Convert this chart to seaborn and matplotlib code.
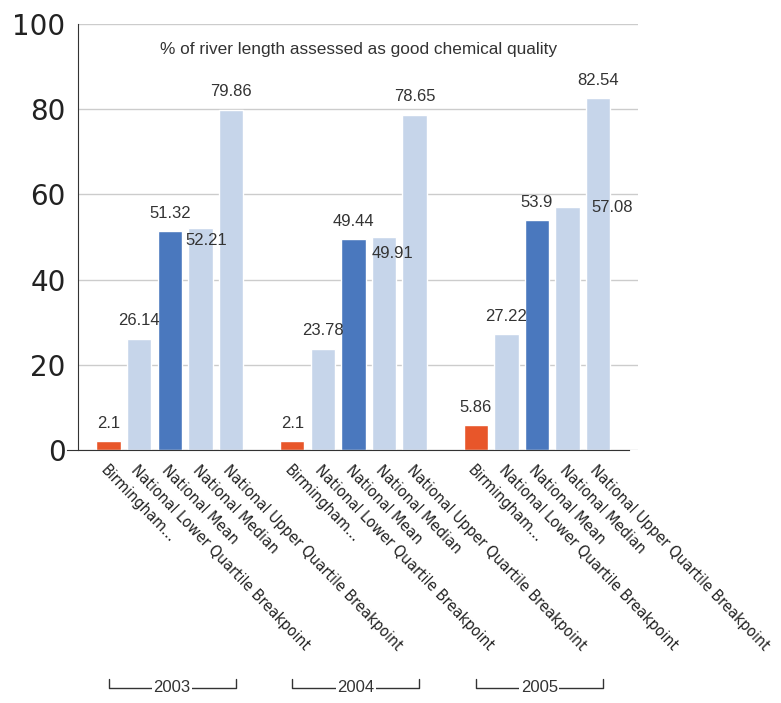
import numpy as np
import pandas as pd
import matplotlib
matplotlib.use("Agg")
import matplotlib.pyplot as plt
import matplotlib.transforms as mtransforms
import seaborn as sns

# -------------------- Data --------------------

years = ["2003", "2004", "2005"]
series = ["Birmingham...",
          "National Lower Quartile Breakpoint",
          "National Mean",
          "National Median",
          "National Upper Quartile Breakpoint"]

birmingham = [2.1, 2.1, 5.86]
lower_quartile = [26.14, 23.78, 27.22]
national_mean = [51.32, 49.44, 53.9]
national_median = [52.21, 49.91, 57.08]
upper_quartile = [79.86, 78.65, 82.54]

title = "% of river length assessed as good chemical quality"

colors = {"Birmingham...": "#E8562A",
          "National Lower Quartile Breakpoint": "#C6D5EA",
          "National Mean": "#4A78BE",
          "National Median": "#C6D5EA",
          "National Upper Quartile Breakpoint": "#C6D5EA"}

# -------------------- Build table --------------------

# one empty slot after each year group
slot = len(series) + 1
values = [birmingham, lower_quartile, national_mean, national_median, upper_quartile]
rows = []
for yi, year in enumerate(years):
    for si, name in enumerate(series):
        rows.append({"pos": yi * slot + si, "year": year, "series": name,
                     "value": values[si][yi]})
df = pd.DataFrame(rows)
n_slots = len(years) * slot

# -------------------- Plot --------------------

sns.set_style("white")
plt.rcParams["font.family"] = ["Liberation Sans", "DejaVu Sans"]

fig = plt.figure(figsize=(7.81, 7.03), dpi=100)
ax = fig.add_axes([78 / 781, 1 - 450 / 703, 560 / 781, 426 / 703])

ax.yaxis.grid(True, color="#cccccc", linewidth=1)
ax.set_axisbelow(True)

sns.barplot(data=df, x="pos", y="value", hue="series", palette=colors,
            native_scale=True, dodge=False, width=0.8, legend=False,
            saturation=1, ax=ax)

ax.set_xlim(-1, n_slots - 0.7)
ax.set_ylim(0, 100)
ax.set_yticks([0, 20, 40, 60, 80, 100])
ax.set_yticklabels(["0", "20", "40", "60", "80", "100"], family="DejaVu Sans",
                   fontsize=20, color="#222222")
ax.tick_params(axis="y", length=7, width=1, color="#333333", pad=2)
ax.tick_params(axis="x", length=8, width=1, color="#333333", pad=1)

tick_labels = []
for t in range(n_slots):
    match = df[df["pos"] == t]
    tick_labels.append(match["series"].iloc[0] if len(match) else "")
ax.set_xticks(range(n_slots))
ax.set_xticklabels(tick_labels, rotation=-46, ha="left", va="top",
                   rotation_mode="anchor", fontsize=11.4, color="#222222",
                   family="DejaVu Sans", fontstretch="condensed")

for side in ["top", "right"]:
    ax.spines[side].set_visible(False)
ax.spines["left"].set_color("#333333")
ax.spines["bottom"].set_color("#333333")
ax.spines["bottom"].set_bounds(-1.35, n_slots - 1)
ax.set_xlabel("")
ax.set_ylabel("")

# value labels (offsets in pixels, label centre from bar top);
# the median ones are pushed aside by the neighbouring labels
nudges = {("2003", "National Median"): (6, -13),
          ("2004", "National Median"): (8, -16),
          ("2005", "National Median"): (45, -1)}
for _, r in df.iterrows():
    dx, dy = nudges.get((r["year"], r["series"]), (0, 18))
    ax.annotate("{:g}".format(r["value"]), (r["pos"], r["value"]),
                xytext=(dx * 0.72, dy * 0.72), textcoords="offset points",
                ha="center", va="center", fontsize=12, color="#333333")

ax.text(0.5, 0.94, title, transform=ax.transAxes, ha="center", va="center",
        fontsize=12.4, color="#333333")

# year brackets under the category labels
trans = mtransforms.blended_transform_factory(ax.transData, ax.transAxes)
y_br = -(688 - 450) / 426
h_br = 9 / 426
for yi, year in enumerate(years):
    x0 = yi * slot
    x1 = yi * slot + len(series) - 1 + 0.15
    ax.plot([x0, x0, x1, x1], [y_br + h_br, y_br, y_br, y_br + h_br],
            color="#333333", lw=1, transform=trans, clip_on=False)
    ax.text((x0 + x1) / 2, y_br, year, transform=trans, ha="center",
            va="center", fontsize=12, color="#333333",
            bbox=dict(facecolor="white", edgecolor="none", pad=1))

fig.savefig("out.png", dpi=100)
